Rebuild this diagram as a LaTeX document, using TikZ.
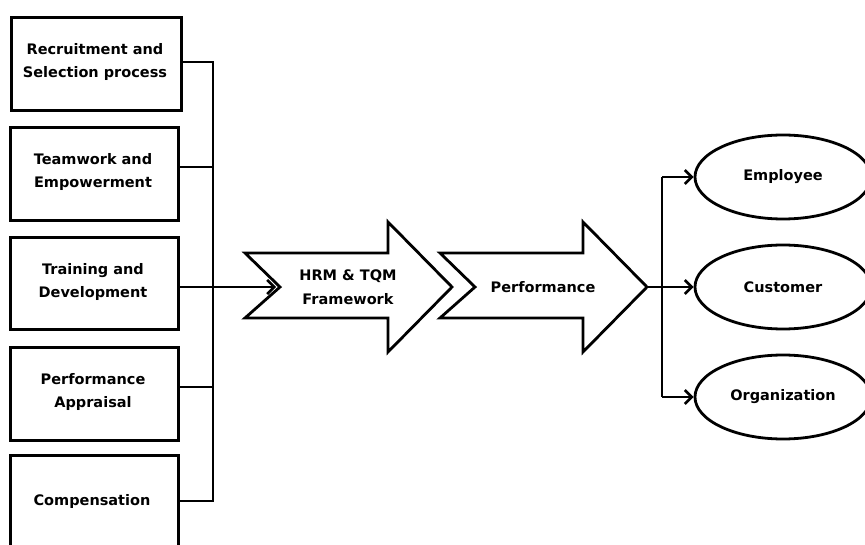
\documentclass[tikz,border=0pt]{standalone}
\usepackage{fontspec}
\setmainfont{DejaVu Sans}
\usetikzlibrary{arrows.meta,shapes.geometric}
\begin{document}
\begin{tikzpicture}[x=1pt,y=-1pt,
  lw/.style={line width=2.8pt},
  box/.style={draw,lw,minimum width=168pt,anchor=north west,inner sep=0pt},
  lbl/.style={font=\bfseries\fontsize{14.5}{23.5}\selectfont,align=center},
  oval/.style={draw,lw,ellipse,minimum width=176pt,minimum height=84pt,inner sep=0pt},
  conn/.style={lw},
  arr/.style={lw,-{Straight Barb[length=7pt,width=14pt,line width=2.6pt]}}]
\useasboundingbox (0,0) rectangle (865,545);
\fill[white] (0,0) rectangle (865,545);
% input boxes
\node[box,minimum width=170pt,minimum height=93pt] (b1) at (10,16) {};
\node[box,minimum height=93pt] (b2) at (9,126) {};
\node[box,minimum height=92pt] (b3) at (9,236) {};
\node[box,minimum height=93pt] (b4) at (9,346) {};
\node[box,minimum height=110pt] (b5) at (9,454) {};
\node[lbl] (t1) at (95,62) {Recruitment and\\Selection process};
\node[lbl] (t2) at (93,172) {Teamwork and\\Empowerment};
\node[lbl] (t3) at (93,282) {Training and\\Development};
\node[lbl] (t4) at (93,392) {Performance\\Appraisal};
\node[lbl] (t5) at (92,501) {Compensation};
% bus
\coordinate (j1) at (213,62);
\coordinate (j2) at (213,167);
\coordinate (j3) at (213,287);
\coordinate (j4) at (213,387);
\coordinate (j5) at (213,501);
\draw[conn] (b1.east |- j1) -- (j1) -- (j5) -- (b5.east |- j5);
\draw[conn] (b2.east |- j2) -- (j2);
\draw[conn] (b4.east |- j4) -- (j4);
% block arrows
\draw[lw,line join=miter] (245,253) coordinate (a1) -- (388,253) -- (388,222) -- (452,287) coordinate (tip1) -- (388,352) -- (388,318) -- (245,318) -- (280,287) coordinate (notch1) -- cycle;
\node[lbl] (hrm) at (348,287) {HRM \& TQM\\Framework};
\draw[lw,line join=miter] (440,253) -- (583,253) -- (583,222) -- (647,287) coordinate (tip2) -- (583,352) -- (583,318) -- (440,318) -- (475,287) coordinate (notch2) -- cycle;
\node[lbl] (perf) at (543,287) {Performance};
\draw[conn] (b3.east |- j3) -- (j3);
\draw[arr] (j3) -- ([xshift=-4pt]notch1);
% outputs
\node[oval] (e1) at (783,177) {};
\node[oval] (e2) at (783,287) {};
\node[oval] (e3) at (783,397) {};
\node[lbl] at (e1) {Employee};
\node[lbl] at (e2) {Customer};
\node[lbl] at (e3) {Organization};
\coordinate (k1) at (662,177);
\coordinate (k2) at (662,287);
\coordinate (k3) at (662,397);
\draw[conn] (tip2) -- (k2);
\draw[conn] (k1) -- (k3);
\draw[arr] (k1) -- (e1.west);
\draw[arr] (k2) -- (e2.west);
\draw[arr] (k3) -- (e3.west);
\end{tikzpicture}
\end{document}
